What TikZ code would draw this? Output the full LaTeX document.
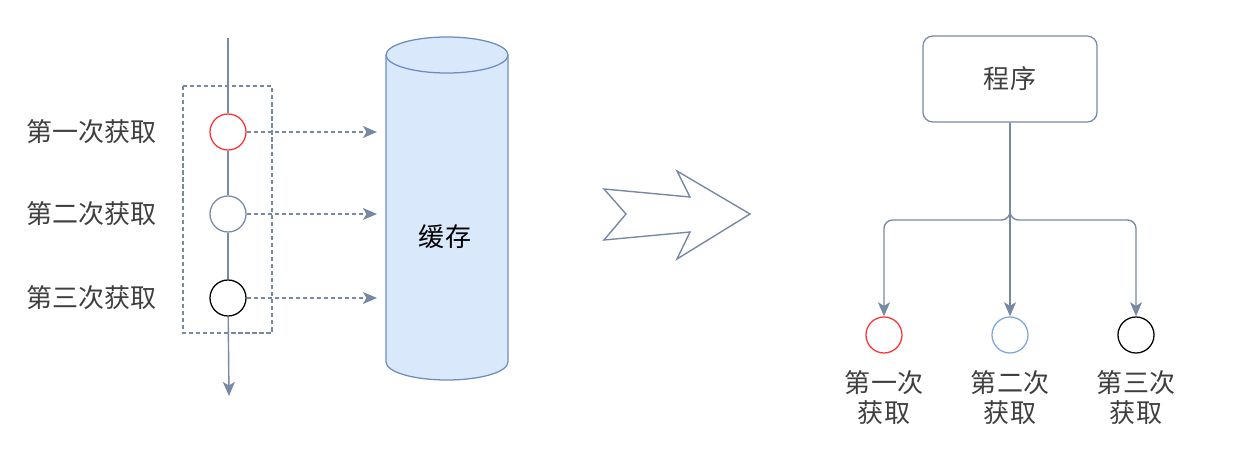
\documentclass[tikz,border=0pt]{standalone}
\usepackage{fontspec}
\setmainfont{Noto Sans CJK SC}
\usetikzlibrary{arrows.meta, positioning, calc}
\definecolor{linegray}{HTML}{788AA3}
\definecolor{textgray}{HTML}{3F3F3F}
\definecolor{cachefill}{HTML}{DAE8FC}
\definecolor{cachedraw}{HTML}{6C8EBF}
\definecolor{hitred}{HTML}{FF3333}
\definecolor{hitblue}{HTML}{7EA6E0}
\tikzset{
    flow/.style={draw=linegray, line width=1pt, -{Stealth[length=10pt, width=8.5pt, inset=2.5pt]}},
    probe/.style={flow, dash pattern=on 3pt off 2pt},
    hit/.style={circle, draw, fill=white, line width=0.9pt, minimum size=0.9cm, inner sep=0pt},
    txt/.style={font=\fontsize{18.5}{21}\selectfont, text=textgray, align=center},
    cyl/.style={fill=cachefill, draw=cachedraw, line width=0.9pt},
    progbox/.style={draw=linegray, rounded corners=7pt, line width=0.9pt, minimum width=4.35cm, minimum height=2.15cm}
}

\begin{document}
\begin{tikzpicture}[x=0.025cm, y=-0.025cm]
    \useasboundingbox (0,0) rectangle (1238,467);

    % left: timeline with three reads
    \draw[linegray, line width=0.9pt, dash pattern=on 3pt off 2pt] (183,86) rectangle (272,333);
    \coordinate (top) at (228,38);
    \coordinate (bot) at (229,396);
    \node[hit, draw=hitred] (c1) at (228,132) {};
    \node[hit, draw=linegray] (c2) at (228,214) {};
    \node[hit, draw=black] (c3) at (228,298) {};
    \draw[linegray, line width=1pt] (top) -- (c1) (c1) -- (c2) (c2) -- (c3);
    \draw[flow] (c3) -- (bot);
    \node[txt, left=1.2cm of c1] (l1) {第一次获取};
    \node[txt, left=1.2cm of c2] (l2) {第二次获取};
    \node[txt, left=1.2cm of c3] (l3) {第三次获取};

    % cache cylinder
    \draw[cyl] (386,55) -- (386,362) arc[start angle=180, end angle=0, x radius=61, y radius=18] -- (508,55);
    \draw[cyl] (447,55) ellipse [x radius=61, y radius=18];
    \node[font=\fontsize{18.5}{21}\selectfont] (cache) at (445,237) {缓存};
    \foreach \i in {1,2,3} {
        \coordinate (t\i) at (c\i -| 377,0);
        \draw[probe] (c\i) -- (t\i);
    }

    % big arrow
    \draw[linegray, line width=1pt, line join=miter] (604,189) -- (626,214) -- (604,240) -- (690,232)
        -- (677,259) -- (750,214) -- (677,171) -- (690,197) -- cycle;

    % right: program fans out
    \node[progbox] (prog) at (1010,79) {};
    \node[txt] (progtxt) at (prog) {程序};
    \node[hit, draw=hitred] (r1) at (884,335) {};
    \node[hit, draw=hitblue] (r2) at (1010,335) {};
    \node[hit, draw=black] (r3) at (1136,335) {};
    \coordinate (fork) at (1010,220);
    \draw[flow, rounded corners=6pt] (prog.south) -- (fork) -| (r1);
    \draw[flow] (prog.south) -- (r2);
    \draw[flow, rounded corners=6pt] (prog.south) -- (fork) -| (r3);
    \node[txt, below=0.3cm of r1] (b1) {第一次\\获取};
    \node[txt, below=0.3cm of r2] (b2) {第二次\\获取};
    \node[txt, below=0.3cm of r3] (b3) {第三次\\获取};
\end{tikzpicture}
\end{document}
